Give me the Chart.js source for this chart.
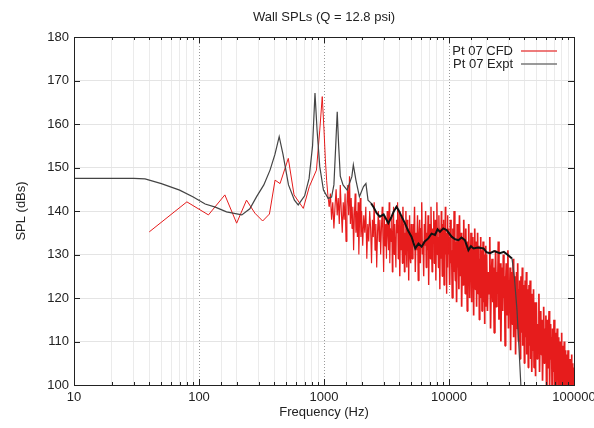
<!DOCTYPE html>
<html><head><meta charset="utf-8">
<script src="https://cdn.jsdelivr.net/npm/chart.js@4/dist/chart.umd.min.js"></script>
<style>html,body{margin:0;padding:0;background:#fff}#wrap{width:594px;height:428px}</style>
</head><body><div id="wrap"><canvas id="c" width="594" height="428"></canvas></div>
<script>
const titleText = 'Wall SPLs (Q = 12.8 psi)';
const xTitle = 'Frequency (Hz)';
const yTitle = 'SPL (dBs)';
const seriesNames = ['Pt 07 CFD', 'Pt 07 Expt'];
const xTickLabels = [10, 100, 1000, 10000, 100000];
const yTickValues = [100, 110, 120, 130, 140, 150, 160, 170, 180];

// CFD (red) spectrum
const cfdFreq = [40,80,119,161,200,240,280,323,366,406,445,518,576,683,763,870,925,968,
 1000,1025,1050,1075,1100,1125,1150,1175,1200,1225,1250,1275,1300,1325,1350,1375,1400,1425,1450,1475,1500,1525,1550,1575,1600,1625,1650,1675,1700,1725,1750,1775,1800,1825,1850,1875,1900,1925,1950,1975,2000,
 2040,2080,2120,2160,2200,2240,2280,2320,2360,2400,2440,2480,2520,2560,2600,2640,2680,2720,2760,2800,2840,2880,2920,2960,3000,3040,3080,3120,3160,3200,3240,3280,3320,3360,3400,3440,3480,3520,3560,3600,3640,3680,3720,3760,3800,3840,3880,3920,3960,4000,4040,4080,4120,4160,4200,4240,4280,4320,4360,4400,4440,4480,4520,4560,4600,4640,4680,4720,4760,4800,4840,4880,4920,4960,5000,
 5075,5150,5225,5300,5375,5450,5525,5600,5675,5750,5825,5900,5975,6050,6125,6200,6275,6350,6425,6500,6575,6650,6725,6800,6875,6950,7025,7100,7175,7250,7325,7400,7475,7550,7625,7700,7775,7850,7925,8000,8075,8150,8225,8300,8375,8450,8525,8600,8675,8750,8825,8900,8975,9050,9125,9200,9275,9350,9425,9500,9575,9650,9725,9800,9875,9950,
 10000,10125,10250,10375,10500,10625,10750,10875,11000,11125,11250,11375,11500,11625,11750,11875,12000,12125,12250,12375,12500,12625,12750,12875,13000,13125,13250,13375,13500,13625,13750,13875,14000,14125,14250,14375,14500,14625,14750,14875,15000,15125,15250,15375,15500,15625,15750,15875,16000,16125,16250,16375,16500,16625,16750,16875,17000,17125,17250,17375,17500,17625,17750,17875,18000,18125,18250,18375,18500,18625,18750,18875,19000,19125,19250,19375,19500,19625,19750,19875,
 20000,20300,20600,20900,21200,21500,21800,22100,22400,22700,23000,23300,23600,23900,24200,24500,24800,25100,25400,25700,26000,26300,26600,26900,27200,27500,27800,28100,28400,28700,29000,29300,29600,29900,30200,30500,30800,31100,31400,31700,32000,32300,32600,32900,33200,33500,33800,34100,34400,34700,35000,35300,35600,35900,36200,36500,36800,37100,37400,37700,38000,38300,38600,38900,39200,39500,39800,40100,40400,40700,41000,41300,41600,41900,42200,42500,42800,43100,43400,43700,44000,44300,44600,44900,45200,45500,45800,46100,46400,46700,47000,47300,47600,47900,48200,48500,48800,49100,49400,49700,
 50000,50600,51200,51800,52400,53000,53600,54200,54800,55400,56000,56600,57200,57800,58400,59000,59600,60200,60800,61400,62000,62600,63200,63800,64400,65000,65600,66200,66800,67400,68000,68600,69200,69800,70400,71000,71600,72200,72800,73400,74000,74600,75200,75800,76400,77000,77600,78200,78800,79400,80000,80600,81200,81800,82400,83000,83600,84200,84800,85400,86000,86600,87200,87800,88400,89000,89600,90200,90800,91400,92000,92600,93200,93800,94400,95000,95600,96200,96800,97400,98000,98600,99200,99800,100000];
const cfdSpl = [135.2,142.1,139.1,143.7,137.2,142.5,139.5,137.7,139.3,147.1,146.3,152.1,143.7,140.6,145.6,149.4,158.6,166.3,
 158.6,152,147,143.5,141,144,138,142,136,141,145,139,143,137,146,140,135,142,138,144,133,141,146,139,148,137,143,136,141,131,139,144,135,140,134,142,130,138,143,134,140,
 132,139,135,141,129,137,133,140,136,128,138,134,142,131,137,127,135,140,133,138,130,136,141,134,126,139,132,137,129,140,135,131,142,128,136,133,139,126,134,141,130,137,132,127,138,135,142,129,133,140,125,136,131,139,134,128,141,132,137,126,135,130,140,133,127,138,131,136,124,134,139,130,135,128,137,
 129,137,133,141,126,135,131,139,124,134,138,128,136,142,130,133,125,137,132,140,127,135,131,139,123,134,137,129,141,132,126,136,133,140,128,131,138,124,135,142,130,134,127,139,132,122,136,129,140,133,125,137,131,138,123,134,128,141,130,135,121,133,139,127,136,130,
 134,123,138,128,131,120,136,126,140,129,124,133,119,137,127,132,122,139,130,125,135,118,129,134,123,138,127,131,121,136,126,130,117,133,124,137,128,120,132,126,135,119,129,123,134,127,116,131,125,136,122,128,133,118,130,124,135,121,127,132,115,129,124,134,120,126,131,117,128,123,133,119,125,130,114,127,122,132,118,126,
 130,117,126,121,134,113,125,129,119,127,112,123,131,118,126,121,133,115,124,128,110,122,127,117,130,120,125,109,123,128,116,121,131,113,124,119,127,108,122,126,114,120,129,111,123,118,125,107,121,126,113,119,128,110,122,116,124,106,120,125,112,117,127,109,121,115,123,105,118,124,111,116,126,107,119,114,122,104,117,123,109,115,124,106,118,112,121,103,116,120,108,113,122,104,117,111,119,102,114,118,
 119,106,114,109,121,103,112,117,107,115,101,110,118,105,113,108,116,100,111,115,104,112,117,99,109,114,106,111,98,113,107,103,115,100,110,105,112,97,108,113,102,106,111,98,109,104,110,96,107,112,100,105,109,97,107,102,110,95,104,108,99,103,107,96,105,101,108,94,103,106,98,102,106,95,104,99,107,94,101,105,97,100,104,95,99];

const exptFreq = [10,20,30,37,50,70,90,112,135,166,220,255,289,330,370,405,438,470,520,580,
 622,700,760,810,847,880,925,990,1080,1150,1200,1240,1276,1310,1350,1420,1530,1670,1717,1800,
 1920,2070,2165,2250,2380,2480,2640,2800,3000,3270,3450,3600,3800,3950,4200,4440,4700,5010,5370,5700,
 6040,6400,6830,7250,7730,8100,8470,9000,9580,10500,11200,11900,12600,13400,14300,15000,15700,17000,18900,20000,
 21300,23000,25500,27500,29600,31900,33300,35000,36600,37500,38200];
const exptSpl = [147.5,147.5,147.5,147.4,146.3,144.8,143.2,141.6,140.9,139.8,139.1,140.5,143.3,146,149.4,153,157.1,153,146,142.5,
 141.4,143.5,147.5,155,167.1,158.6,150.2,144.8,142.9,143.2,146,154.8,162.8,155,148,146,144.8,147.9,150.6,147.1,
 143.3,145.6,146.3,142.5,141.8,141,139.5,138.7,139.2,137.2,138.5,139.8,141,140.2,138.6,137.2,135.5,134.1,131.4,132.5,
 131.8,133,133.7,134.8,134.5,135.8,135.2,136,135.6,134.1,133.5,133.3,133.9,133.3,131,131.9,131.4,131.6,131.4,130.5,
 130.3,130.8,130.3,130.6,129.9,129.1,124.9,117.2,106.5,100.4,96];

const RED = 'rgb(230,28,28)';
const FONT = "'Liberation Sans', Arial, Helvetica, sans-serif";
Chart.defaults.font.family = FONT;
Chart.defaults.font.size = 13;
Chart.defaults.color = '#222';

const isMajor = v => Math.abs(Math.log10(v) - Math.round(Math.log10(v))) < 1e-9;

const framePlugin = {
  id: 'frame',
  afterDatasetsDraw(chart) {
    const {ctx, chartArea: a, scales: {x, y}} = chart;
    ctx.save();
    ctx.strokeStyle = '#222';
    ctx.lineWidth = 1;
    ctx.beginPath();
    x.ticks.forEach(t => {
      const v = t.value;
      if (v <= x.min || v >= x.max) return;
      const px = Math.round(x.getPixelForValue(v)) + 0.5;
      const len = isMajor(v) ? 6 : 3;
      ctx.moveTo(px, a.bottom); ctx.lineTo(px, a.bottom - len);
      ctx.moveTo(px, a.top); ctx.lineTo(px, a.top + len);
    });
    yTickValues.forEach(v => {
      if (v <= y.min || v >= y.max) return;
      const py = Math.round(y.getPixelForValue(v)) + 0.5;
      ctx.moveTo(a.left, py); ctx.lineTo(a.left + 6, py);
      ctx.moveTo(a.right, py); ctx.lineTo(a.right - 6, py);
    });
    ctx.stroke();
    ctx.strokeRect(Math.round(a.left) + 0.5, Math.round(a.top) + 0.5, Math.round(a.right - a.left), Math.round(a.bottom - a.top));
    // legend (gnuplot style: text then line sample)
    const colors = ['rgb(232,80,80)', 'rgb(120,120,120)'];
    ctx.font = '13px ' + FONT;
    ctx.fillStyle = '#222';
    ctx.textAlign = 'right';
    ctx.textBaseline = 'middle';
    seriesNames.forEach((name, i) => {
      const ly = a.top + 14 + i * 13;
      ctx.fillText(name, a.right - 61, ly);
      ctx.beginPath();
      ctx.lineWidth = 1.5;
      ctx.strokeStyle = colors[i];
      ctx.moveTo(a.right - 53, Math.round(ly));
      ctx.lineTo(a.right - 17, Math.round(ly));
      ctx.stroke();
    });
    ctx.restore();
  }
};

const redWidth = c => {
  const f = c.p0.parsed.x;
  return f >= 10000 ? 1.7 : (f >= 4000 ? 1.4 : (f >= 1100 ? 1.15 : 1));
};

new Chart(document.getElementById('c'), {
  type: 'line',
  data: {
    datasets: [
      {
        label: seriesNames[0],
        data: cfdFreq.map((f, i) => ({x: f, y: cfdSpl[i]})),
        borderColor: RED, borderWidth: 1, pointRadius: 0, tension: 0, order: 1,
        borderJoinStyle: 'bevel',
        segment: {borderWidth: redWidth}
      },
      {
        label: seriesNames[1],
        data: exptFreq.map((f, i) => ({x: f, y: exptSpl[i]})),
        borderColor: '#444', borderWidth: 1.2, pointRadius: 0, tension: 0, order: 0,
        segment: {
          borderWidth: c => (c.p0.parsed.x >= 2300 && c.p1.parsed.x <= 32000) ? 2 : 1.2,
          borderColor: c => (c.p0.parsed.x >= 2300 && c.p1.parsed.x <= 32000) ? '#111' : '#444'
        }
      }
    ]
  },
  options: {
    responsive: false,
    animation: false,
    devicePixelRatio: 1,
    layout: {padding: 0},
    plugins: {
      legend: {display: false},
      tooltip: {enabled: false},
      title: {
        display: true, text: titleText, fullSize: false,
        font: {size: 13, weight: 'normal'}, color: '#222',
        padding: {top: 10, bottom: 11.4}
      }
    },
    scales: {
      x: {
        type: 'logarithmic', min: 10, max: 100000,
        afterFit(s) { s.height = 43; s.paddingRight = 20; s.paddingLeft = 0; },
        ticks: {
          autoSkip: false, maxRotation: 0, padding: 5, color: '#222',
          callback: v => (isMajor(v) && xTickLabels.includes(Math.round(v))) ? String(Math.round(v)) : ''
        },
        grid: {
          drawTicks: false,
          color: c => (c.tick && isMajor(c.tick.value)) ? '#9a9a9a' : '#ebebeb',
          lineWidth: 1
        },
        border: {display: false, dash: c => (c.tick && isMajor(c.tick.value)) ? [1, 2] : []},
        title: {display: true, text: xTitle, color: '#222', font: {size: 13}, padding: {top: 0, bottom: 8.2}}
      },
      y: {
        min: 100, max: 180,
        afterFit(s) { s.width = 74; },
        ticks: {stepSize: 10, padding: 5, color: '#222', callback: v => yTickValues.includes(v) ? String(v) : ''},
        grid: {drawTicks: false, color: '#e4e4e4', lineWidth: 1},
        border: {display: false},
        title: {display: true, text: yTitle, color: '#222', font: {size: 13}, padding: {top: 14, bottom: 0}}
      }
    }
  },
  plugins: [framePlugin]
});
</script>
</body></html>
